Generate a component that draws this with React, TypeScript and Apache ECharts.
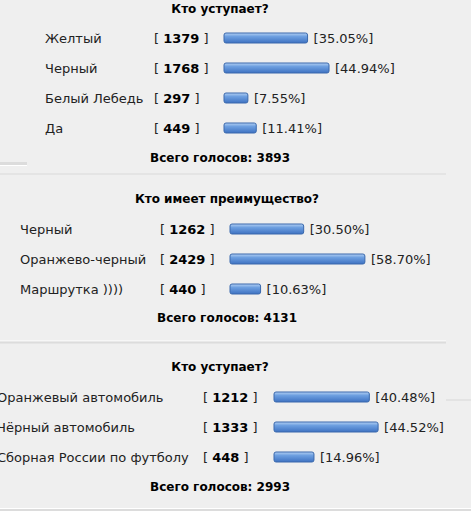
import React, { useEffect, useRef } from "react";
import * as echarts from "echarts";

// Poll 1
const poll1Title = "Кто уступает?";
const poll1Options = ["Желтый", "Черный", "Белый Лебедь", "Да"];
const poll1Votes = [1379, 1768, 297, 449];
const poll1Percents = [35.05, 44.94, 7.55, 11.41];
const poll1Total = 3893;

// Poll 2
const poll2Title = "Кто имеет преимущество?";
const poll2Options = ["Черный", "Оранжево-черный", "Маршрутка ))))"];
const poll2Votes = [1262, 2429, 440];
const poll2Percents = [30.5, 58.7, 10.63];
const poll2Total = 4131;

// Poll 3
const poll3Title = "Кто уступает?";
const poll3Options = ["Оранжевый автомобиль", "Чёрный автомобиль", "Сборная России по футболу"];
const poll3Votes = [1212, 1333, 448];
const poll3Percents = [40.48, 44.52, 14.96];
const poll3Total = 2993;

const FONT = '"DejaVu Sans", Verdana, sans-serif';

export default function App() {
  const ref = useRef<HTMLDivElement>(null);

  useEffect(() => {
    if (!ref.current) return;
    const chart = echarts.init(ref.current, null, { renderer: "svg" });

    const polls = [
      { title: poll1Title, options: poll1Options, votes: poll1Votes, pct: poll1Percents, total: poll1Total,
        left: 224, top: 23, labelX: 45, bracketX: 154, titleX: 220, titleY: 9, footY: 158 },
      { title: poll2Title, options: poll2Options, votes: poll2Votes, pct: poll2Percents, total: poll2Total,
        left: 230, top: 214, labelX: 20, bracketX: 160, titleX: 227, titleY: 199, footY: 318 },
      { title: poll3Title, options: poll3Options, votes: poll3Votes, pct: poll3Percents, total: poll3Total,
        left: 274, top: 382, labelX: -3, bracketX: 203, titleX: 220, titleY: 367, footY: 487 },
    ];

    const ROW = 30;
    const SCALE_W = 217;
    const CAP = 7.5;
    const BAR_H = 10;

    const grids = polls.map((p) => ({
      left: p.left,
      top: p.top,
      width: SCALE_W,
      height: ROW * p.options.length,
      containLabel: false,
      outerBoundsMode: "none",
    }));

    const xAxes = polls.map((_, i) => ({
      type: "value",
      gridIndex: i,
      min: 0,
      max: 100,
      show: false,
    }));

    const yAxes = polls.map((p, i) => ({
      type: "category",
      gridIndex: i,
      data: p.options,
      inverse: true,
      axisLine: { show: false },
      axisTick: { show: false },
      splitLine: { show: false },
      axisLabel: {
        interval: 0,
        align: "left",
        margin: p.left - p.labelX,
        formatter: (value: string, idx: number) =>
          `{n|${value}}{v|[ }{b|${p.votes[idx]}}{v| ]}`,
        rich: {
          n: { width: p.bracketX - p.labelX, align: "left", fontSize: 13, fontFamily: FONT, color: "#222" },
          v: { fontSize: 13, fontFamily: FONT, color: "#222" },
          b: { fontSize: 13, fontFamily: FONT, color: "#000", fontWeight: "bold" },
        },
      },
    }));

    const gradient = new echarts.graphic.LinearGradient(0, 0, 0, 1, [
      { offset: 0, color: "#b3d0f3" },
      { offset: 0.35, color: "#6d9fe0" },
      { offset: 1, color: "#3e72c2" },
    ]);

    const series = polls.map((p, i) => ({
      type: "custom",
      xAxisIndex: i,
      yAxisIndex: i,
      encode: { x: 0, y: 1 },
      data: p.pct.map((v, k) => [v, k]),
      renderItem: (params: any, api: any) => {
        const pct = api.value(0);
        const idx = api.value(1);
        const s = api.coord([0, idx]);
        const e = api.coord([pct, idx]);
        const w = e[0] - s[0] + CAP;
        return {
          type: "group",
          children: [
            {
              type: "rect",
              shape: { x: s[0], y: s[1] - BAR_H / 2, width: w, height: BAR_H, r: 2 },
              style: { fill: gradient, stroke: "#3a69ad", lineWidth: 1 },
            },
            {
              type: "text",
              x: s[0] + w + 6,
              y: s[1],
              style: {
                text: "[" + pct.toFixed(2) + "%]",
                font: `13px ${FONT}`,
                fill: "#222",
                textAlign: "left",
                textVerticalAlign: "middle",
              },
            },
          ],
        };
      },
    }));

    const texts: any[] = [];
    polls.forEach((p) => {
      texts.push({
        type: "text",
        x: p.titleX,
        y: p.titleY,
        style: { text: p.title, font: `bold 12px ${FONT}`, fill: "#000", textAlign: "center", textVerticalAlign: "middle" },
      });
      texts.push({
        type: "text",
        x: p.titleX,
        y: p.footY,
        style: { text: "Всего голосов: " + p.total, font: `bold 12px ${FONT}`, fill: "#000", textAlign: "center", textVerticalAlign: "middle" },
      });
    });

    const lines: any[] = [
      { type: "rect", shape: { x: 0, y: 162, width: 27, height: 3 }, style: { fill: "#dcdcdc" } },
      { type: "rect", shape: { x: 0, y: 165, width: 27, height: 1 }, style: { fill: "#ffffff" } },
      { type: "rect", shape: { x: 0, y: 173.5, width: 446, height: 1 }, style: { fill: "#dadada" } },
      { type: "rect", shape: { x: 0, y: 340.5, width: 446, height: 1 }, style: { fill: "#ffffff" } },
      { type: "rect", shape: { x: 0, y: 341.5, width: 446, height: 2 }, style: { fill: "#dcdcdc" } },
      { type: "rect", shape: { x: 446, y: 399.5, width: 25, height: 1 }, style: { fill: "#d6d6d6" } },
      { type: "rect", shape: { x: 0, y: 508, width: 471, height: 1 }, style: { fill: "#ffffff" } },
      { type: "rect", shape: { x: 0, y: 509, width: 471, height: 2 }, style: { fill: "#dcdcdc" } },
    ];

    chart.setOption({
      animation: false,
      backgroundColor: "#efefef",
      grid: grids,
      xAxis: xAxes,
      yAxis: yAxes,
      series,
      graphic: [...lines, ...texts],
    });

    return () => chart.dispose();
  }, []);

  return (
    <div
      ref={ref}
      style={{ position: "fixed", left: 0, top: 0, width: 471, height: 511 }}
    />
  );
}
